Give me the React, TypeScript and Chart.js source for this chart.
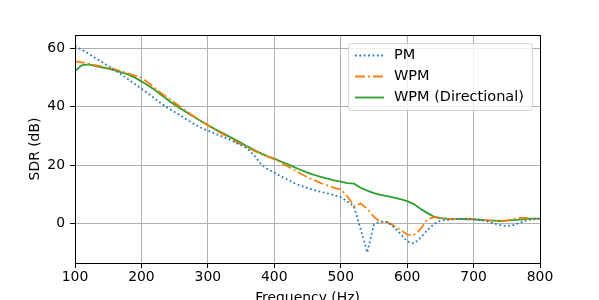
import React, { useEffect, useRef } from "react";
import { Chart, registerables } from "chart.js";

Chart.register(...registerables);

// Frequency grid (Hz)
const FREQ = [
  100, 110, 120, 130, 140, 150, 160, 170, 180, 190,
  200, 210, 220, 230, 240, 250, 260, 270, 280, 290,
  300, 310, 320, 330, 340, 350, 360, 370, 380, 390,
  400, 410, 420, 430, 440, 450, 460, 470, 480, 490,
  500, 510, 520, 530, 540, 550, 560, 570, 580, 590,
  600, 610, 620, 630, 640, 650, 660, 670, 680, 690,
  700, 710, 720, 730, 740, 750, 760, 770, 780, 790, 800,
];

const PM = [
  60.8, 59.6, 58.3, 56.8, 55.4, 54.0, 52.5, 51.0, 49.4, 47.8,
  46.2, 44.5, 42.8, 41.1, 39.5, 38.2, 36.8, 35.3, 34.0, 32.8,
  31.8, 30.8, 29.9, 29.0, 27.9, 26.8, 25.6, 23.2, 20.3, 18.6,
  17.4, 16.1, 15.0, 13.8, 12.9, 12.1, 11.4, 10.8, 10.3, 9.7,
  9.0, 7.5, 5.8, -2.0, -10.0, -0.5, 0.6, 0.5, -1.3, -3.6,
  -6.2, -6.9, -5.0, -2.4, -0.3, 0.9, 1.2, 1.4, 1.5, 1.5,
  1.4, 1.2, 0.7, 0.0, -0.6, -0.9, -0.6, 0.3, 1.0, 1.5, 1.6,
];

const WPM = [
  55.6, 55.2, 54.8, 54.3, 53.8, 53.4, 52.8, 52.1, 51.4, 50.7,
  49.9, 48.3, 46.5, 44.6, 43.0, 41.4, 39.8, 38.1, 36.6, 35.1,
  33.6, 32.2, 30.9, 29.6, 28.3, 27.1, 25.9, 24.8, 23.8, 22.9,
  22.0, 20.8, 19.6, 18.3, 17.0, 15.9, 14.8, 13.8, 13.0, 12.2,
  11.6, 9.3, 5.9, 6.8, 5.0, 2.2, 0.5, 0.5, -0.8, -2.2,
  -3.9, -4.0, -2.0, 1.3, 2.1, 1.8, 1.4, 1.5, 1.6, 1.6,
  1.5, 1.3, 1.1, 0.9, 0.8, 1.0, 1.5, 1.9, 1.9, 1.6, 1.5,
];

const WPM_DIR = [
  52.2, 54.2, 54.5, 54.0, 53.5, 53.1, 52.5, 51.8, 51.1, 50.0,
  48.7, 47.3, 45.8, 44.0, 42.3, 40.7, 39.2, 37.8, 36.4, 35.0,
  33.7, 32.4, 31.2, 30.0, 28.8, 27.6, 26.3, 25.1, 24.0, 23.0,
  22.2, 21.2, 20.3, 19.3, 18.3, 17.4, 16.6, 15.9, 15.3, 14.7,
  14.3, 13.8, 13.6, 12.2, 11.2, 10.4, 9.8, 9.3, 8.8, 8.3,
  7.6, 6.6, 5.0, 3.6, 2.3, 1.8, 1.6, 1.5, 1.5, 1.4,
  1.4, 1.2, 1.0, 0.9, 0.8, 0.9, 1.1, 1.3, 1.5, 1.6, 1.6,
];

const X_TICKS = [100, 200, 300, 400, 500, 600, 700, 800];
const Y_TICKS = [0, 20, 40, 60];
const LABELS = ["PM", "WPM", "WPM (Directional)"];
const COLORS = ["#1f77b4", "#ff7f0e", "#2ca02c"];
const DASHES: number[][] = [[1.7, 2.7], [10, 3, 2, 3], []];

const FONT = "'DejaVu Sans', sans-serif";
const FS = 13.9;
const LEG_FS = 14.5;
const LW = 1.8;

const toPoints = (ys: number[]) => FREQ.map((x, i) => ({ x, y: ys[i] }));

const framePlugin = {
  id: "frame",
  afterDatasetsDraw(chart: any) {
    const { ctx, chartArea: a } = chart;
    const l = Math.round(a.left - 0.5) + 0.5;
    const r = Math.round(a.right - 0.5) + 0.5;
    const t = Math.round(a.top - 0.5) + 0.5;
    const b = Math.round(a.bottom - 0.5) + 0.5;
    ctx.save();
    ctx.strokeStyle = "#000";
    ctx.lineWidth = 1;
    ctx.strokeRect(l, t, r - l, b - t);
    ctx.restore();
  },
  afterDraw(chart: any) {
    const { ctx } = chart;
    const x0 = 348.5, y0 = 43.5, w = 184, h = 67, rad = 3;
    ctx.save();
    ctx.beginPath();
    ctx.moveTo(x0 + rad, y0);
    ctx.lineTo(x0 + w - rad, y0);
    ctx.quadraticCurveTo(x0 + w, y0, x0 + w, y0 + rad);
    ctx.lineTo(x0 + w, y0 + h - rad);
    ctx.quadraticCurveTo(x0 + w, y0 + h, x0 + w - rad, y0 + h);
    ctx.lineTo(x0 + rad, y0 + h);
    ctx.quadraticCurveTo(x0, y0 + h, x0, y0 + h - rad);
    ctx.lineTo(x0, y0 + rad);
    ctx.quadraticCurveTo(x0, y0, x0 + rad, y0);
    ctx.closePath();
    ctx.fillStyle = "rgba(255,255,255,0.8)";
    ctx.fill();
    ctx.strokeStyle = "rgba(204,204,204,0.8)";
    ctx.lineWidth = 1;
    ctx.stroke();

    const rows = [55.5, 76.5, 97.5];
    ctx.font = `${LEG_FS}px ${FONT}`;
    ctx.textBaseline = "middle";
    ctx.textAlign = "left";
    LABELS.forEach((lab, i) => {
      const y = rows[i];
      ctx.beginPath();
      ctx.setLineDash(DASHES[i]);
      ctx.strokeStyle = COLORS[i];
      ctx.lineWidth = LW;
      ctx.lineCap = "butt";
      ctx.moveTo(355, y);
      ctx.lineTo(384, y);
      ctx.stroke();
      ctx.setLineDash([]);
      ctx.fillStyle = "#000";
      ctx.fillText(lab, 394, y);
    });
    ctx.restore();
  },
};

export default function App() {
  const ref = useRef<HTMLCanvasElement | null>(null);

  useEffect(() => {
    if (!ref.current) return;
    const series = [PM, WPM, WPM_DIR];
    const chart = new Chart(ref.current, {
      type: "line",
      data: {
        datasets: series.map((ys, i) => ({
          label: LABELS[i],
          data: toPoints(ys),
          borderColor: COLORS[i],
          backgroundColor: COLORS[i],
          borderWidth: LW,
          borderDash: DASHES[i],
          pointRadius: 0,
          tension: 0,
          fill: false,
        })),
      },
      options: {
        responsive: false,
        animation: false,
        layout: { padding: { left: 0, right: 59, top: 35, bottom: 0 } },
        plugins: {
          legend: { display: false },
          tooltip: { enabled: false },
        },
        scales: {
          x: {
            type: "linear",
            min: 100,
            max: 800,
            afterBuildTicks: (s: any) => {
              s.ticks = X_TICKS.map((v) => ({ value: v }));
            },
            afterFit: (s: any) => {
              s.height = 57;
            },
            grid: {
              color: "#b0b0b0",
              lineWidth: 1,
              tickColor: "#000",
              tickLength: 5,
              tickWidth: 1,
            },
            border: { display: false },
            ticks: {
              color: "#000",
              font: { family: FONT, size: FS },
              padding: 1,
              maxRotation: 0,
            },
            title: {
              display: true,
              text: "Frequency (Hz)",
              color: "#000",
              font: { family: FONT, size: FS },
              padding: { top: 0, bottom: 13 },
            },
          },
          y: {
            type: "linear",
            min: -13.6,
            max: 64.6,
            afterBuildTicks: (s: any) => {
              s.ticks = Y_TICKS.map((v) => ({ value: v }));
            },
            afterFit: (s: any) => {
              s.width = 75;
            },
            grid: {
              color: "#b0b0b0",
              lineWidth: 1,
              tickColor: "#000",
              tickLength: 5,
              tickWidth: 1,
            },
            border: { display: false },
            ticks: {
              color: "#000",
              font: { family: FONT, size: FS },
              padding: 5,
            },
            title: {
              display: true,
              text: "SDR (dB)",
              color: "#000",
              font: { family: FONT, size: FS },
              padding: { top: 27, bottom: 0 },
            },
          },
        },
      },
      plugins: [framePlugin],
    });
    return () => chart.destroy();
  }, []);

  return (
    <div
      style={{
        position: "fixed",
        left: 0,
        top: 0,
        width: 599,
        height: 300,
        overflow: "hidden",
        background: "#fff",
      }}
    >
      <canvas ref={ref} width={599} height={320} style={{ display: "block" }} />
    </div>
  );
}
